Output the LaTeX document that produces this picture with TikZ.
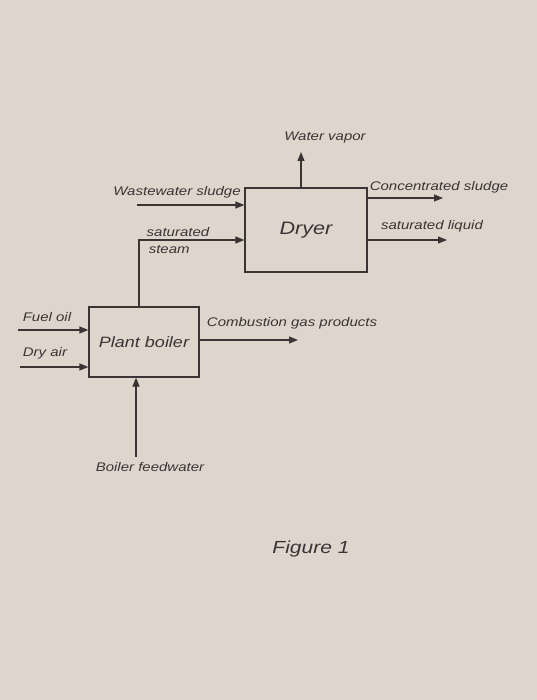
\documentclass[tikz,border=0pt]{standalone}
\usepackage{fontspec}
\setmainfont{Liberation Sans}[FakeStretch=1.2]
\usetikzlibrary{arrows.meta,positioning}
\definecolor{paper}{RGB}{222,214,205}
\definecolor{ink}{RGB}{58,52,52}

\begin{document}
\begin{tikzpicture}[x=1pt,y=-1pt,
	unit/.style={draw=ink,line width=1.2pt,minimum width=#1,inner sep=0pt,text=ink},
	flow/.style={draw=ink,line width=1.2pt,-{Triangle[length=9pt,width=7pt]}},
	lbl/.style={text=ink,font=\fontsize{12.5}{13}\selectfont\itshape,inner sep=1pt}]
	\fill[paper] (0,0) rectangle (537,700);
	\useasboundingbox (0,0) rectangle (537,700);
	% the two units
	\node[unit=122pt,minimum height=84pt,font=\fontsize{18}{19}\selectfont\itshape] (dryer) at (306,230) {Dryer};
	\node[unit=110pt,minimum height=70pt,font=\fontsize{15}{16}\selectfont\itshape] (boiler) at (144,342) {Plant boiler};
	% free ends
	\coordinate (ww) at (137,205);
	\coordinate (wv) at (301,152);
	\coordinate (cs) at (443,198);
	\coordinate (sl) at (447,240);
	\coordinate (fo) at (18,330);
	\coordinate (da) at (20,367);
	\coordinate (cg) at (298,340);
	\coordinate (fw) at (136,457);
	% dryer streams
	\draw[flow] (ww) -- (ww -| dryer.west);
	\draw[flow] (boiler.north -| 139,0) |- ([yshift=-10pt]dryer.west);
	\draw[flow] (dryer.north -| wv) -- (wv);
	\draw[flow] (dryer.east |- cs) -- (cs);
	\draw[flow] (dryer.east |- sl) -- (sl);
	% boiler streams
	\draw[flow] (fo) -- (fo -| boiler.west);
	\draw[flow] (da) -- (da -| boiler.west);
	\draw[flow] (boiler.east |- cg) -- (cg);
	\draw[flow] (fw) -- (boiler.south -| fw);
	% labels
	\node[lbl] (wvl) at (325,137) {Water vapor};
	\node[lbl] (wwl) at (177,192) {Wastewater sludge};
	\node[lbl,align=left] (stl) at (178,241) {saturated\\[4pt]\,steam};
	\node[lbl] (csl) at (439,187) {Concentrated sludge};
	\node[lbl] (sll) at (432,226) {saturated liquid};
	\node[lbl] (fol) at (47,317) {Fuel oil};
	\node[lbl] (dal) at (45,353) {Dry air};
	\node[lbl] (cgl) at (292,323) {Combustion gas products};
	\node[lbl] (fwl) at (150,467) {Boiler feedwater};
	\node[text=ink,font=\fontsize{17.5}{18}\selectfont\itshape] (fig) at (311,549) {Figure 1};
\end{tikzpicture}
\end{document}
